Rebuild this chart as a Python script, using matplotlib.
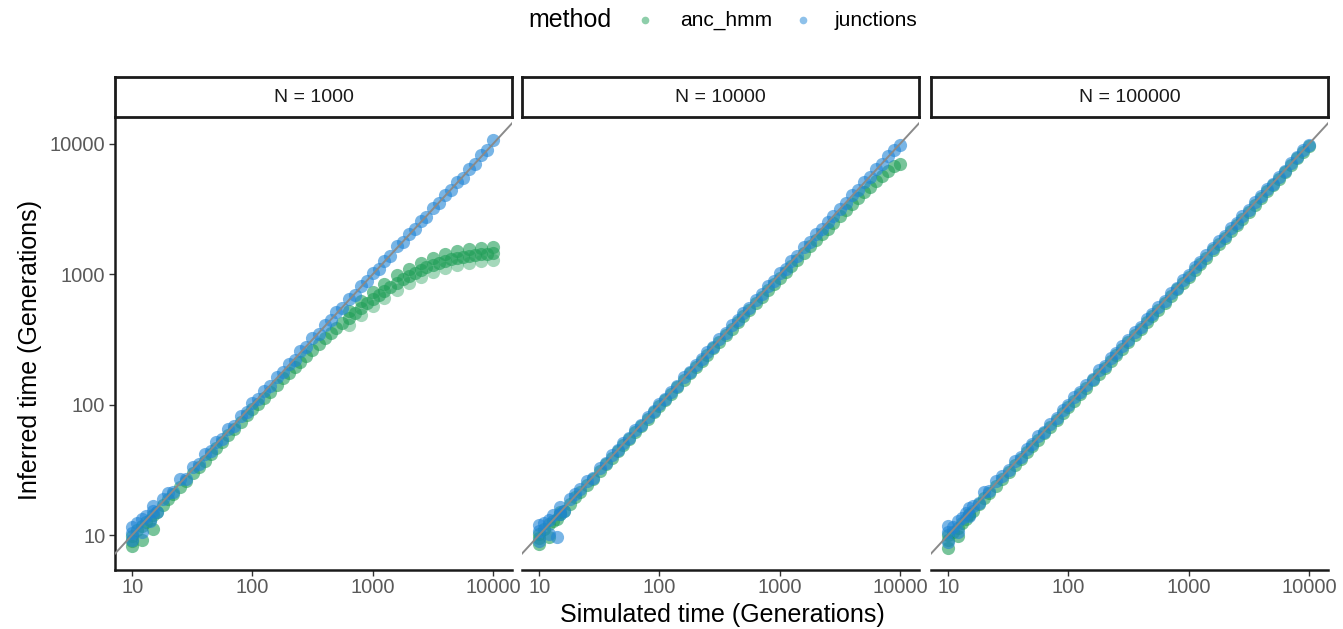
import matplotlib.pyplot as plt
from matplotlib.lines import Line2D

plt.rcParams['font.family'] = ['Liberation Sans', 'DejaVu Sans']

# Simulated time points (shared by every series)
sim_time = [10, 10, 10, 11, 12, 12, 13, 14, 15, 15,
            16, 18, 20, 22, 25, 28, 32, 36, 40, 45,
            50, 56, 63, 70, 80, 90, 100, 112, 125, 140,
            160, 180, 200, 225, 250, 280, 315, 355, 400, 450,
            500, 560, 630, 710, 800, 900, 1000, 1120, 1250, 1400,
            1600, 1800, 2000, 2250, 2500, 2800, 3150, 3550, 4000, 4500,
            5000, 5600, 6300, 7100, 8000, 9000, 10000]

# N = 1000
junc_1k = [11.5, 9.2, 10.4, 12.3, 10.5, 13.2, 14.0, 12.8, 16.8, 15.2,
           15.0, 19.0, 21.0, 21.5, 26.8, 27.0, 33.5, 35.0, 42.0, 44.0,
           51.5, 55.0, 65.5, 68.5, 82, 88, 103, 110, 128, 138,
           164, 177, 206, 222, 258, 276, 322, 350, 412, 444,
           512, 553, 645, 700, 818, 888, 1025, 1105, 1275, 1385,
           1635, 1775, 2045, 2215, 2555, 2765, 3210, 3505, 4085, 4440,
           5110, 5525, 6420, 7010, 8160, 8920, 10700]
hmm_1k = [9.8, 8.3, 9.0, 11.0, 9.2, 11.8, 12.6, 13.0, 14.3, 11.2,
          15.0, 17.0, 19.0, 20.5, 23.5, 26.0, 30.0, 33.5, 37.0, 42.0,
          46.5, 52.0, 58.5, 64.5, 73.5, 83, 92, 102, 113, 126,
          142, 159, 175, 195, 214, 237, 262, 290, 322, 355,
          385, 420, 460, 505, 550, 600, 645, 695, 750, 800,
          860, 920, 970, 1030, 1080, 1130, 1180, 1220, 1260, 1300,
          1330, 1360, 1390, 1410, 1430, 1440, 1450]
# extra replicates spreading the anc_hmm plateau at N = 1000
spread_time_1k = [630, 800, 1000, 1250, 1600, 2000, 2500, 3150, 4000, 5000, 6300, 8000, 10000]
hmm_1k_high = [520, 620, 730, 850, 980, 1100, 1230, 1340, 1430, 1500, 1560, 1600, 1620]
hmm_1k_low = [410, 490, 570, 660, 760, 860, 950, 1040, 1120, 1180, 1230, 1260, 1280]

# N = 10000
junc_10k = [12.0, 9.0, 10.8, 12.4, 10.2, 13.0, 14.2, 9.6, 16.5, 14.6,
            15.4, 18.8, 20.6, 22.5, 25.8, 27.5, 32.8, 35.5, 41.0, 44.5,
            51, 55.5, 64, 69.5, 81, 89, 101, 111, 126, 139,
            162, 179, 203, 223, 254, 278, 318, 352, 405, 447,
            507, 556, 638, 704, 810, 893, 1015, 1108, 1265, 1390,
            1620, 1785, 2030, 2230, 2535, 2780, 3190, 3520, 4050, 4460,
            5070, 5540, 6380, 7030, 8100, 8930, 9900]
hmm_10k = [9.5, 8.5, 10.2, 11.2, 9.6, 12.2, 12.8, 13.2, 14.5, 15.0,
           15.2, 17.4, 19.4, 21.3, 24.3, 27.0, 31.0, 35.0, 39.0, 43.8,
           48.8, 54.5, 61.5, 68.3, 78, 87.5, 97.5, 109, 121.5, 136,
           155, 174, 193, 217, 241, 270, 303, 341, 383, 430,
           477, 533, 598, 672, 755, 846, 936, 1045, 1162, 1295,
           1470, 1645, 1820, 2030, 2240, 2490, 2780, 3110, 3470, 3860,
           4250, 4700, 5200, 5720, 6250, 6750, 7000]

# N = 100000
junc_100k = [10.5, 8.8, 11.8, 11.5, 12.8, 10.6, 13.6, 14.8, 14.0, 16.2,
             16.6, 17.6, 21.2, 21.8, 26.0, 28.6, 31.5, 37.0, 39.5, 46.0,
             49.5, 57.0, 62.0, 71.5, 79, 91.5, 99, 114, 124, 142,
             158, 183, 198, 229, 248, 284, 312, 360, 396, 455,
             495, 566, 624, 718, 792, 908, 990, 1130, 1240, 1410,
             1585, 1810, 1980, 2270, 2480, 2820, 3120, 3580, 3960, 4520,
             4950, 5620, 6250, 7120, 7950, 9050, 9800]
hmm_100k = [9.2, 7.9, 10.0, 10.6, 11.4, 9.8, 12.4, 13.3, 14.2, 14.6,
            15.3, 17.2, 19.1, 21.0, 23.9, 26.8, 30.6, 34.4, 38.3, 43.1,
            47.9, 53.7, 60.4, 67.2, 76.8, 86.4, 96, 107.5, 120, 134.5,
            153.5, 172.5, 191.5, 215.5, 239.5, 268, 301.5, 340, 383, 431,
            479, 536, 603, 680, 765, 861, 956, 1071, 1195, 1338,
            1530, 1720, 1912, 2150, 2390, 2680, 3020, 3400, 3840, 4330,
            4820, 5400, 6080, 6860, 7740, 8720, 9700]

pop_sizes = ["N = 1000", "N = 10000", "N = 100000"]
methods = ["anc_hmm", "junctions"]
colors = {"anc_hmm": "#1f9e57", "junctions": "#1f84d6"}
ticks = [10, 100, 1000, 10000]
tick_labels = ["10", "100", "1000", "10000"]

hmm_data = [hmm_1k, hmm_10k, hmm_100k]
junc_data = [junc_1k, junc_10k, junc_100k]

fig = plt.figure(figsize=(13.43, 6.29), dpi=100)

W, H = 1343, 629
panel_left = [115, 522, 931]
panel_w = 397
panel_top, panel_bottom = 117, 570
strip_top = 77
pt_size = 90

for i in range(3):
    ax = fig.add_axes([panel_left[i] / W, 1 - panel_bottom / H,
                       panel_w / W, (panel_bottom - panel_top) / H])
    ax.set_xscale('log')
    ax.set_yscale('log')
    ax.set_xlim(7.2, 14400)
    ax.set_ylim(5.39, 16100)

    ax.scatter(sim_time, hmm_data[i], s=pt_size, color=colors["anc_hmm"],
               alpha=0.6, linewidths=0, zorder=2)
    if i == 0:
        ax.scatter(spread_time_1k, hmm_1k_high, s=pt_size, color=colors["anc_hmm"],
                   alpha=0.6, linewidths=0, zorder=2)
        ax.scatter(spread_time_1k, hmm_1k_low, s=pt_size, color=colors["anc_hmm"],
                   alpha=0.4, linewidths=0, zorder=2)
    ax.scatter(sim_time, junc_data[i], s=pt_size, color=colors["junctions"],
               alpha=0.6, linewidths=0, zorder=3)

    # y = x reference line
    ax.axline((10, 10), (1000, 1000), color="#8a8a8a", lw=1.4, zorder=4)

    ax.set_xticks(ticks)
    ax.set_xticklabels(tick_labels)
    ax.minorticks_off()
    ax.tick_params(axis='x', length=4, width=1, color='#333333',
                   labelsize=14.5, labelcolor='#5a5a5a', pad=2)
    for s in ['top', 'right']:
        ax.spines[s].set_visible(False)
    ax.spines['bottom'].set_linewidth(1.8)
    ax.spines['bottom'].set_color('#1a1a1a')
    if i == 0:
        ax.set_yticks(ticks)
        ax.set_yticklabels(tick_labels)
        ax.tick_params(axis='y', length=4, width=1, color='#333333',
                       labelsize=14.5, labelcolor='#5a5a5a', pad=3)
        ax.spines['left'].set_linewidth(1.8)
        ax.spines['left'].set_color('#1a1a1a')
    else:
        ax.set_yticks([])
        ax.spines['left'].set_visible(False)

    # facet strip
    sax = fig.add_axes([panel_left[i] / W, 1 - panel_top / H,
                        panel_w / W, (panel_top - strip_top) / H])
    sax.set_xticks([])
    sax.set_yticks([])
    for s in sax.spines.values():
        s.set_linewidth(2)
        s.set_color('#1a1a1a')
    sax.text(0.5, 0.5, pop_sizes[i], ha='center', va='center',
             fontsize=14, color='#1a1a1a', transform=sax.transAxes)

fig.text(722 / W, 1 - 615 / H, "Simulated time (Generations)",
         ha='center', va='center', fontsize=18)
fig.text(30 / W, 1 - 350 / H, "Inferred time (Generations)",
         ha='center', va='center', fontsize=18, rotation=90)

# legend
fig.text(528 / W, 1 - 20 / H, "method", ha='left', va='center', fontsize=18)
legend_x = [645, 803]
label_x = [680, 835]
for m, mx, lx in zip(methods, legend_x, label_x):
    fig.add_artist(Line2D([mx / W], [1 - 20 / H], transform=fig.transFigure,
                          marker='o', linestyle='', markersize=5.5,
                          markerfacecolor=colors[m], markeredgewidth=0, alpha=0.5))
    fig.text(lx / W, 1 - 20 / H, m, ha='left', va='center', fontsize=15)

plt.savefig("out.png", dpi=100)
